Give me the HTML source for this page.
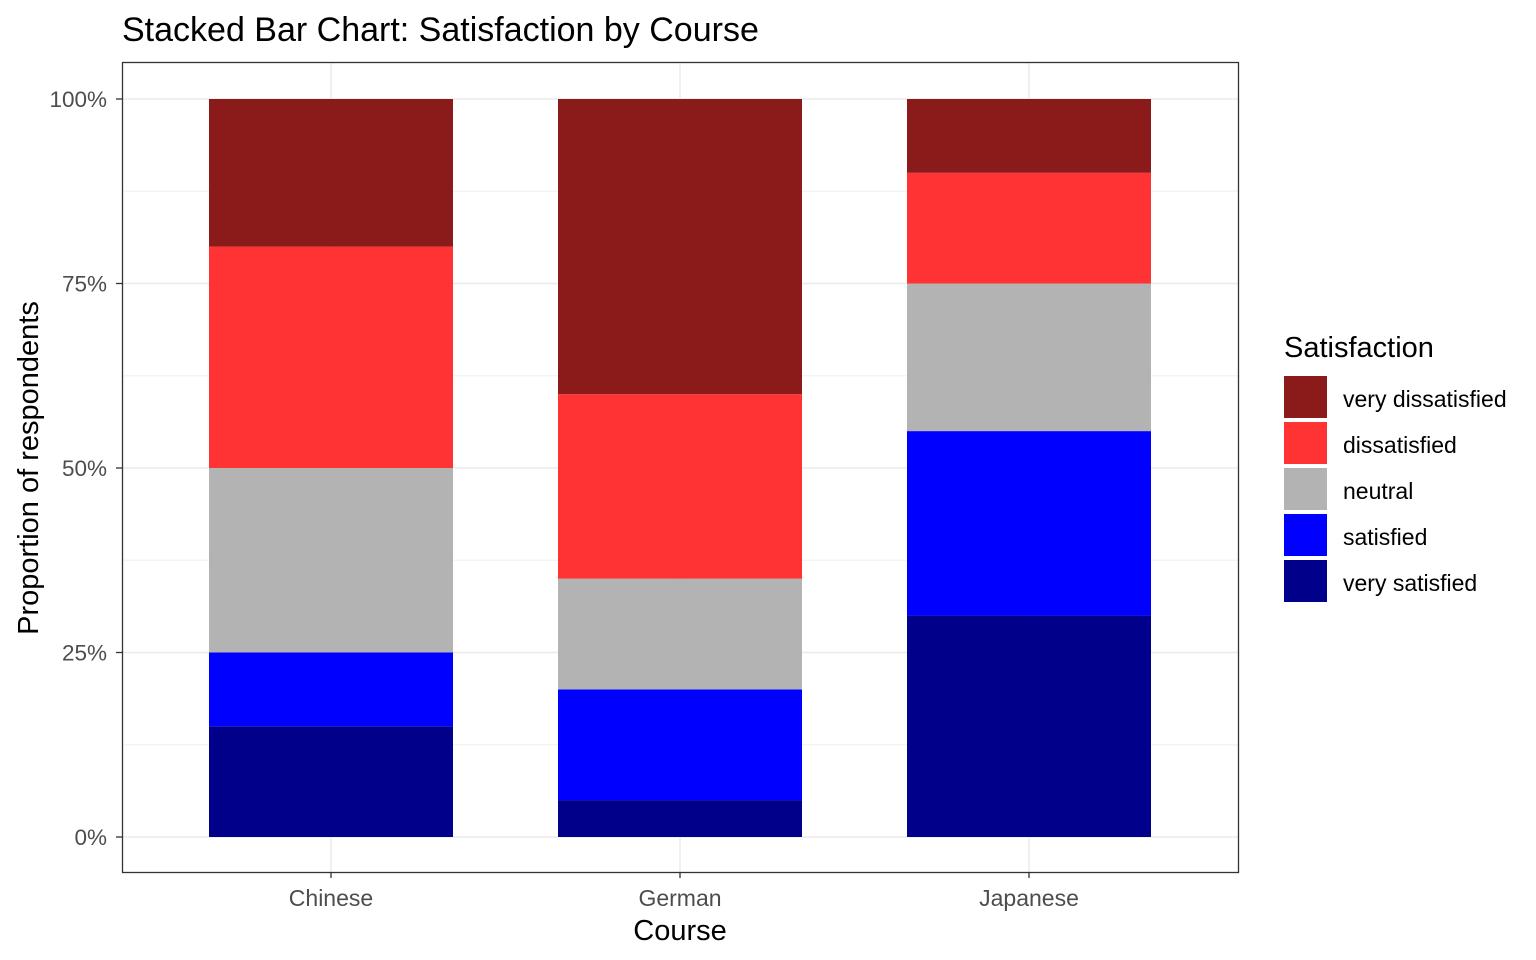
<!DOCTYPE html>
<html><head><meta charset="utf-8"><style>
html,body{margin:0;padding:0;background:#fff;}
svg{display:block;font-family:"Liberation Sans",Arial,sans-serif;}
</style></head><body>
<svg width="1536" height="960" viewBox="0 0 1536 960" xmlns="http://www.w3.org/2000/svg">
<rect width="1536" height="960" fill="#fff"/>
<text x="122" y="41" font-size="34" fill="#000">Stacked Bar Chart: Satisfaction by Course</text>
<g stroke="#F3F3F3" stroke-width="1.2">
<line x1="122" x2="1239" y1="744.75" y2="744.75"/>
<line x1="122" x2="1239" y1="560.25" y2="560.25"/>
<line x1="122" x2="1239" y1="375.75" y2="375.75"/>
<line x1="122" x2="1239" y1="191.25" y2="191.25"/>
</g>
<g stroke="#EBEBEB" stroke-width="1.5">
<line x1="122" x2="1239" y1="837" y2="837"/>
<line x1="122" x2="1239" y1="652.5" y2="652.5"/>
<line x1="122" x2="1239" y1="468" y2="468"/>
<line x1="122" x2="1239" y1="283.5" y2="283.5"/>
<line x1="122" x2="1239" y1="99" y2="99"/>
<line x1="331" x2="331" y1="62" y2="872"/>
<line x1="680" x2="680" y1="62" y2="872"/>
<line x1="1029" x2="1029" y1="62" y2="872"/>
</g>
<rect x="209" width="244" y="726.3" height="110.7" fill="#00008B"/>
<rect x="209" width="244" y="652.5" height="73.8" fill="#0000FF"/>
<rect x="209" width="244" y="468" height="184.5" fill="#B3B3B3"/>
<rect x="209" width="244" y="246.6" height="221.4" fill="#FF3333"/>
<rect x="209" width="244" y="99" height="147.6" fill="#8B1A1A"/>
<rect x="558" width="244" y="800.1" height="36.9" fill="#00008B"/>
<rect x="558" width="244" y="689.4" height="110.7" fill="#0000FF"/>
<rect x="558" width="244" y="578.7" height="110.7" fill="#B3B3B3"/>
<rect x="558" width="244" y="394.2" height="184.5" fill="#FF3333"/>
<rect x="558" width="244" y="99" height="295.2" fill="#8B1A1A"/>
<rect x="907" width="244" y="615.6" height="221.4" fill="#00008B"/>
<rect x="907" width="244" y="431.1" height="184.5" fill="#0000FF"/>
<rect x="907" width="244" y="283.5" height="147.6" fill="#B3B3B3"/>
<rect x="907" width="244" y="172.8" height="110.7" fill="#FF3333"/>
<rect x="907" width="244" y="99" height="73.8" fill="#8B1A1A"/>
<rect x="122.5" y="62.5" width="1116" height="810" fill="none" stroke="#333" stroke-width="1.3"/>
<g stroke="#333" stroke-width="1.3">
<line x1="116" x2="122" y1="837" y2="837"/><line x1="116" x2="122" y1="652.5" y2="652.5"/>
<line x1="116" x2="122" y1="468" y2="468"/><line x1="116" x2="122" y1="283.5" y2="283.5"/>
<line x1="116" x2="122" y1="99" y2="99"/>
<line x1="331" x2="331" y1="872" y2="878"/><line x1="680" x2="680" y1="872" y2="878"/>
<line x1="1029" x2="1029" y1="872" y2="878"/>
</g>
<g font-size="22.5" fill="#4D4D4D" text-anchor="end">
<text x="107" y="845">0%</text><text x="107" y="660.5">25%</text>
<text x="107" y="476">50%</text><text x="107" y="291.5">75%</text>
<text x="107" y="107">100%</text>
</g>
<g font-size="23" fill="#4D4D4D" text-anchor="middle">
<text x="331" y="906">Chinese</text><text x="680" y="906">German</text><text x="1029" y="906">Japanese</text>
</g>
<text x="680" y="940" font-size="29" text-anchor="middle" fill="#000">Course</text>
<text transform="translate(38,468) rotate(-90)" font-size="29" text-anchor="middle" fill="#000">Proportion of respondents</text>
<text x="1284" y="357" font-size="29" fill="#000">Satisfaction</text>
<rect x="1284" y="376" width="43" height="42" fill="#8B1A1A"/>
<rect x="1284" y="422" width="43" height="42" fill="#FF3333"/>
<rect x="1284" y="468" width="43" height="42" fill="#B3B3B3"/>
<rect x="1284" y="514" width="43" height="42" fill="#0000FF"/>
<rect x="1284" y="560" width="43" height="42" fill="#00008B"/>
<g font-size="23" fill="#000">
<text x="1343" y="407">very dissatisfied</text>
<text x="1343" y="453">dissatisfied</text>
<text x="1343" y="499">neutral</text>
<text x="1343" y="545">satisfied</text>
<text x="1343" y="591">very satisfied</text>
</g>
</svg>
</body></html>
